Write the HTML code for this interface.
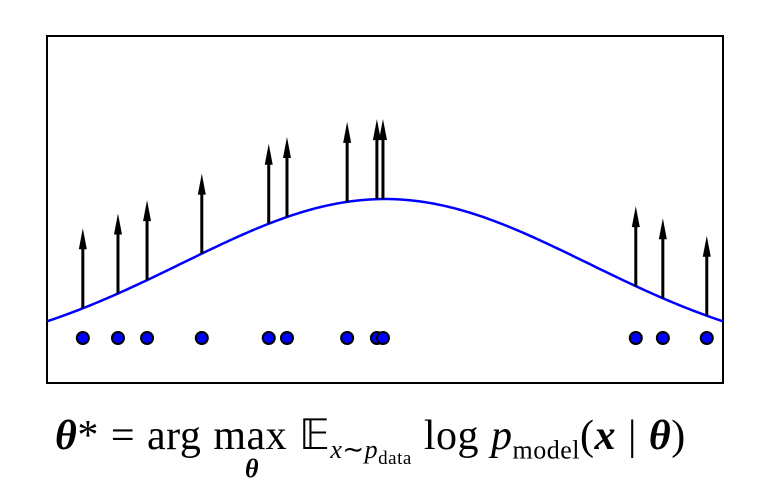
<!DOCTYPE html>
<html><head><meta charset="utf-8"><style>
body{margin:0;background:#fff;width:758px;height:495px;overflow:hidden}
svg{position:absolute;left:0;top:0}
.f{position:absolute;left:55px;top:410px;font-family:"Liberation Serif",serif;font-size:42px;color:#000;white-space:nowrap;letter-spacing:0.5px;word-spacing:1px}
.f b{font-style:italic}
sub{font-size:26px}
</style></head><body>
<svg width="758" height="495">
<rect x="47" y="36" width="676" height="347" fill="none" stroke="#000" stroke-width="2"/>
<g id="g"></g>
</svg>
<div class="f"><b>θ</b>* = arg max 𝔼<sub><i>x</i>∼<i>p</i><sub style="font-size:19px">data</sub></sub> log <i>p</i><sub>model</sub>(<b>x</b> | <b>θ</b>)<span style="position:absolute;left:190px;top:44px;font-size:26px;font-weight:bold;font-style:italic">θ</span></div>
<script>
const samples=[0.53,1.05,1.48,2.29,3.28,3.55,4.44,4.88,4.97,8.71,9.11,9.76];
const mu=5, sigma=3;
const xDomain=[0,10];
const yMax=0.133;
const NS="http://www.w3.org/2000/svg";
const g=document.getElementById('g');
const xs=v=>47+(v-xDomain[0])/(xDomain[1]-xDomain[0])*676;
const ys=p=>362-p/yMax*163;
const pdf=x=>Math.exp(-(x-mu)*(x-mu)/(2*sigma*sigma))/(sigma*Math.sqrt(2*Math.PI));
let d="";
for(let i=0;i<=200;i++){const x=xDomain[0]+i/200*(xDomain[1]-xDomain[0]);d+=(i?"L":"M")+xs(x).toFixed(2)+","+ys(pdf(x)).toFixed(2);}
const c=document.createElementNS(NS,'path');
c.setAttribute('d',d);c.setAttribute('fill','none');c.setAttribute('stroke','#0000ff');c.setAttribute('stroke-width','2.5');


g.appendChild(c);
samples.forEach((s,i)=>{
 const x=xs(s), y0=ys(pdf(s)), yt=y0-80;
 const l=document.createElementNS(NS,'line');
 l.setAttribute('x1',x);l.setAttribute('x2',x);l.setAttribute('y1',y0);l.setAttribute('y2',yt+18);
 l.setAttribute('stroke','#000');l.setAttribute('stroke-width','3');
 
 
 g.appendChild(l);
 const h=document.createElementNS(NS,'polygon');
 h.setAttribute('points',`${x-4},${yt+21} ${x},${yt} ${x+4},${yt+21}`);
 h.setAttribute('fill','#000');
 
 
 g.appendChild(h);
 const p=document.createElementNS(NS,'circle');
 p.setAttribute('cx',x);p.setAttribute('cy',338);p.setAttribute('r',6);
 p.setAttribute('fill','#0000ff');p.setAttribute('stroke','#000');p.setAttribute('stroke-width','2');
 
 
 g.appendChild(p);
});
</script>
</body></html>
